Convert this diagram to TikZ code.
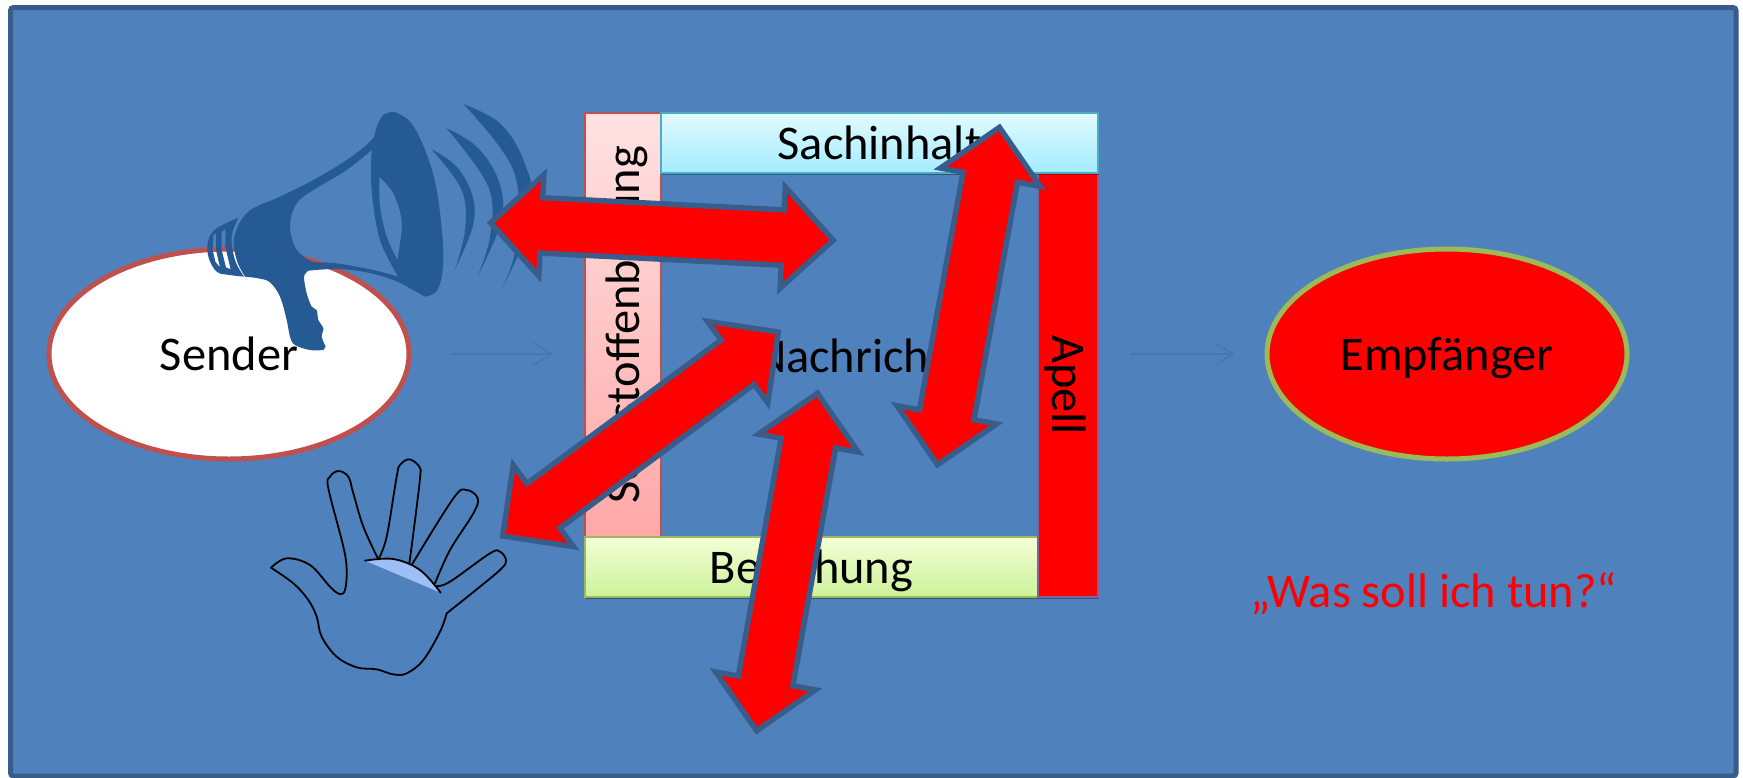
\documentclass[tikz,border=0pt]{standalone}
\usepackage{fontspec}
\setmainfont{Carlito}
\usepackage{xcolor}
\usepackage{tikz}
\usetikzlibrary{shapes, shapes.arrows, arrows.meta, shadows}
\definecolor{slideblue}{HTML}{4F81BD}
\definecolor{slideedge}{HTML}{385D8A}
\definecolor{flowblue}{HTML}{4877AF}
\definecolor{hornblue}{HTML}{265A94}
\definecolor{senderred}{HTML}{C0504D}
\definecolor{empfgreen}{HTML}{9BBB59}
\definecolor{sachedge}{HTML}{4BACC6}
\definecolor{apelledge}{HTML}{8064A2}
\definecolor{palmblue}{HTML}{9DBFF5}
\definecolor{selbsttop}{HTML}{FFE2E2}
\definecolor{selbstlow}{HTML}{FFA8A8}
\definecolor{sachtop}{HTML}{E2FBFF}
\definecolor{sachlow}{HTML}{A3ECFF}
\definecolor{beztop}{HTML}{F3FFD6}
\definecolor{bezlow}{HTML}{CDF29A}

\begin{document}
\begin{tikzpicture}[
    x=0.5pt, y=-0.5pt,
    label/.style={font=\fontsize{24.2}{28}\selectfont, text=black, text height=20pt, text depth=4pt},
    person/.style={ellipse, line width=2.5pt, minimum width=180pt, minimum height=105pt, inner sep=0pt},
    side/.style={rectangle, draw, line width=0.8pt, inner sep=0pt, outer sep=0pt,
        drop shadow={shadow xshift=0.3pt, shadow yshift=-1.2pt, opacity=.35, fill=black}},
    flow/.style={-{Straight Barb[length=9pt, width=11pt]}, line width=0.8pt, flowblue},
    talk/.style={double arrow, draw=slideedge, fill=red, line width=2.7pt, inner sep=12.5pt, outer sep=0pt,
        minimum width=48pt, minimum height=171.5pt, double arrow head extend=11.5pt, double arrow tip angle=90},
    horn/.style={fill=hornblue, draw=none, even odd rule},
    handline/.style={draw=black, line width=0.9pt, line cap=round, line join=round}
]
\useasboundingbox (0,0) rectangle (1743,777);
\draw[fill=slideblue, draw=slideedge, line width=2.5pt, rounded corners=1.5pt] (10.5,7.5) rectangle (1736,776);

\node[person, draw=senderred, fill=white, label] (sender) at (229,354) {Sender};
\node[person, draw=empfgreen, fill=red, label] (empfaenger) at (1447,354) {Empfänger};

\node[side, draw=senderred, top color=selbsttop, bottom color=selbstlow, label, rotate=90,
    minimum width=212pt, minimum height=38pt] (selbst) at (623,325) {Selbstoffenbarung};
\node[side, draw=empfgreen, top color=beztop, bottom color=bezlow, label,
    minimum width=226.5pt, minimum height=30pt] (beziehung) at (811.5,567) {Beziehung};
\node[side, draw=apelledge, fill=red, label, rotate=-90,
    minimum width=212pt, minimum height=30pt] (apell) at (1068,385) {Apell};
\node[side, draw=sachedge, top color=sachtop, bottom color=sachlow, label,
    minimum width=218.5pt, minimum height=30pt] (sachinhalt) at (879.5,143) {Sachinhalt};

\node[label] (nachricht) at (850,356) {Nachricht};
\node[label, text=red] (frage) at (1434,591) {„Was soll ich tun?“};

\draw[flow, shorten <=19.5pt, shorten >=16pt] (sender.east) -- (sender.east -| selbst.north);
\draw[flow, shorten <=16pt, shorten >=15pt] (empfaenger.west -| apell.north) -- (empfaenger.west);

\begin{scope}[shift={(180,80)}, x=0.16667pt, y=-0.16667pt]
\path[horn] plot[smooth, tension=.6] coordinates {(640,95) (690,125) (735,210) (770,330) (790,520) (775,625) (735,650)}
    -- plot[smooth, tension=.6] coordinates {(735,650) (690,625) (640,600) (560,577) (470,567) (385,572)}
    -- plot[smooth, tension=.5] coordinates {(385,572) (372,590) (380,640) (395,680) (410,690) (415,720) (430,745) (425,770) (437,800)}
    -- (430,810) -- plot[smooth, tension=.6] coordinates {(430,810) (390,810) (345,795) (330,770) (320,720) (300,650) (270,607) (235,595) (195,590)}
    -- plot[smooth, tension=.6] coordinates {(195,590) (170,540) (163,470) (205,395) (300,350) (400,300) (500,240) (575,180) (590,140) (610,105) (640,95)} -- cycle
    plot[smooth, tension=.6] coordinates {(575,210) (500,270) (400,330) (350,370) (330,430) (340,490) (360,520) (400,545) (470,550) (580,570) (655,590)}
    -- plot[smooth, tension=.6] coordinates {(655,590) (600,480) (575,330) (575,210)} -- cycle
    plot[smooth, tension=.6] coordinates {(598,290) (640,340) (665,420) (660,490) (652,540)}
    -- plot[smooth, tension=.6] coordinates {(652,540) (620,470) (600,380) (598,290)} -- cycle;
\path[horn] plot[smooth, tension=.6] coordinates {(175,413) (110,445) (85,480) (85,530) (110,575) (150,585) (192,590)}
    -- plot[smooth, tension=.6] coordinates {(192,590) (165,540) (155,470) (175,413)} -- cycle
    (100,465) -- (108,460) -- (108,510) -- (120,562) -- (106,545) -- (98,510) -- cycle
    (125,455) -- (136,448) -- (136,500) -- (152,568) -- (138,562) -- (125,510) -- cycle;
\path[horn] plot[smooth, tension=.6] coordinates {(755,208) (830,260) (878,350) (878,440) (825,568)}
    -- plot[smooth, tension=.6] coordinates {(825,568) (855,450) (845,330) (755,208)} -- cycle;
\path[horn] plot[smooth, tension=.6] coordinates {(800,145) (890,200) (955,300) (965,420) (892,590)}
    -- plot[smooth, tension=.6] coordinates {(892,590) (930,470) (925,320) (800,145)} -- cycle;
\path[horn] plot[smooth, tension=.6] coordinates {(850,72) (960,130) (1030,240) (1060,400) (965,628)}
    -- plot[smooth, tension=.6] coordinates {(965,628) (1010,490) (1000,270) (850,72)} -- cycle;
\end{scope}

\begin{scope}[shift={(250,440)}, x=0.16667pt, y=-0.16667pt]
\path[fill=palmblue] plot[smooth, tension=.6] coordinates {(345,362) (430,357) (510,390) (572,458)} -- cycle;
\draw[handline] plot[smooth, tension=.6] coordinates {(345,362) (430,357) (510,390) (572,458)};
\draw[handline] plot[smooth, tension=.6] coordinates {(63,383) (110,355) (180,375) (240,440) (268,462) (285,450) (290,390) (280,320) (235,145) (240,110) (265,93) (295,110) (310,160) (340,260) (385,358)};
\draw[handline] plot[smooth, tension=.6] coordinates {(385,358) (410,290) (440,110) (450,75) (478,58) (508,80) (510,115) (490,280) (478,370)};
\draw[handline] plot[smooth, tension=.6] coordinates {(485,375) (610,175) (650,150) (683,175) (670,220) (600,330) (555,430)};
\draw[handline] plot[smooth, tension=.6] coordinates {(560,438) (600,425) (720,340) (750,335) (768,360) (755,385) (690,440) (590,520)};
\draw[handline] plot[smooth, tension=.6] coordinates {(590,520) (570,575) (520,660) (470,700) (430,703) (380,688) (320,682) (260,650) (215,590) (200,530) (175,480) (130,430) (63,383)};
\end{scope}

\node[talk, rotate=-2.9] (arrowselbst) at (662,231.5) {};
\node[talk, rotate=36.5] (arrowbeziehung) at (640.5,434) {};
\node[talk, rotate=79.8] (arrowunten) at (787,562) {};
\node[talk, rotate=79.6] (arrowsache) at (968.5,296) {};
\end{tikzpicture}
\end{document}
